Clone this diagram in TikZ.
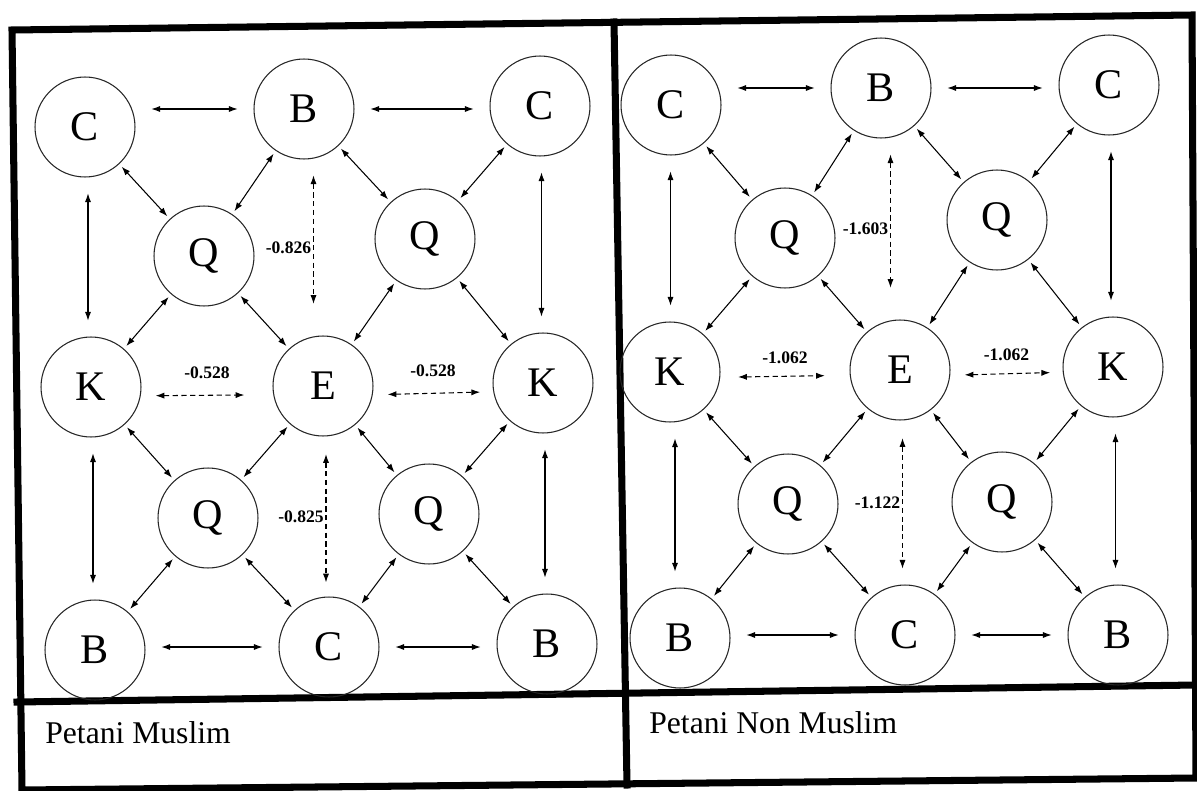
\documentclass[tikz,border=0pt]{standalone}
\usepackage{fontspec}
\setmainfont{Liberation Serif}
\usetikzlibrary{arrows.meta,calc}

\begin{document}
\begin{tikzpicture}[
    x=0.02cm, y=-0.02cm,
    >={Latex[length=5pt,width=3.5pt]},
    actor/.style={circle, draw=black!85, line width=0.6pt, minimum size=2cm,
      inner sep=0pt, font=\fontsize{24}{24}\selectfont},
    link/.style={<->, line width=0.6pt, shorten <=2pt, shorten >=2pt},
    straight/.style={<->, line width=0.6pt, shorten <=9pt, shorten >=9pt},
    dasharr/.style={<->, densely dashed, line width=0.6pt},
    coeflbl/.style={font=\fontsize{10}{10}\selectfont\bfseries, inner sep=1pt},
    frame/.style={line width=4pt, line cap=rect},
    paneltitle/.style={font=\fontsize{18}{18}\selectfont, anchor=base west, inner sep=0pt}
  ]
  \useasboundingbox (0,0) rectangle (1197,791);

  % frames (scan is a little skewed)
  \draw[frame] (12,30) -- (1192,15) -- (1196,778) -- (22,790) -- cycle;
  \draw[frame] (614,22) -- (627,785);
  \draw[frame] (17,702) -- (1196,685);

  % Petani Muslim
  \foreach \n/\x/\y/\t in {%
    tl/85/127/C, tc/304/109/B, tr/540/106/C,
    ql/204/256/Q, qr/425/239/Q,
    ml/91/387/K, mc/323/386/E, mr/543/383/K,
    pl/208/518/Q, pr/429/514/Q,
    bl/95/650/B, bc/329/647/C, br/547/644/B%
  }
    \node[actor] (m\n) at (\x,\y) {\t};

  % Petani Non Muslim
  \foreach \n/\x/\y/\t in {%
    tl/671/105/C, tc/881/88/B, tr/1109/85/C,
    ql/785/238/Q, qr/997/220/Q,
    ml/670/372/K, mc/900/370/E, mr/1113/367/K,
    pl/788/504/Q, pr/1002/502/Q,
    bl/680/638/B, bc/905/635/C, br/1118/635/B%
  }
    \node[actor] (n\n) at (\x,\y) {\t};

  \foreach \p in {m,n}{
    \foreach \a/\b in {tl/ql, tc/ql, tc/qr, tr/qr, ql/ml, ql/mc, qr/mc, qr/mr,
      ml/pl, mc/pl, mc/pr, mr/pr, pl/bl, pl/bc, pr/bc, pr/br}
      \draw[link] (\p\a) -- (\p\b);
    \foreach \a/\b/\c in {tl/tc/tc, tc/tr/tc, bl/bc/bc, bc/br/bc}
      \draw[straight] (\p\a.east |- \p\c) -- (\p\b.west |- \p\c);
    \foreach \a/\b in {tl/ml, tr/mr, ml/bl, mr/br}{
      \coordinate (h) at ($(\p\a)!.5!(\p\b)$);
      \draw[straight] (\p\a.south -| h) -- (\p\b.north -| h);
    }
  }

  % coefficients, Petani Muslim
  \coordinate (mu) at ($(mtc)!.5!(mmc)$);
  \coordinate (md) at ($(mmc)!.5!(mbc)$);
  \draw[dasharr, shorten <=9pt, shorten >=18pt] (mtc.south -| mu)
    -- node[coeflbl, left] {-0.826} (mmc.north -| mu);
  \draw[dasharr, shorten <=10pt, shorten >=8pt] (mmc.south -| md)
    -- node[coeflbl, left] {-0.825} (mbc.north -| md);
  \draw[dasharr, shorten <=8pt, shorten >=16pt] ([yshift=-5pt]mml.east)
    -- node[coeflbl, above=8pt] {-0.528} ([yshift=-5pt]mmc.west);
  \draw[dasharr, shorten <=8pt, shorten >=7pt] ([yshift=-5pt]mmc.east)
    -- node[coeflbl, above=8pt] {-0.528} ([yshift=-5pt]mmr.west);

  % coefficients, Petani Non Muslim
  \coordinate (nu) at ($(ntc)!.5!(nmc)$);
  \coordinate (nd) at ($(nmc)!.5!(nbc)$);
  \draw[dasharr, shorten <=9pt, shorten >=18pt] (ntc.south -| nu)
    -- node[coeflbl, left] {-1.603} (nmc.north -| nu);
  \draw[dasharr, shorten <=10pt, shorten >=9pt] (nmc.south -| nd)
    -- node[coeflbl, left] {-1.122} (nbc.north -| nd);
  \draw[dasharr, shorten <=10pt, shorten >=14pt] ([yshift=-3pt]nml.east)
    -- node[coeflbl, above=6pt] {-1.062} ([yshift=-3pt]nmc.west);
  \draw[dasharr, shorten <=8pt, shorten >=7pt] ([yshift=-3pt]nmc.east)
    -- node[coeflbl, above=6pt] {-1.062} ([yshift=-3pt]nmr.west);

  \node[paneltitle] (mtitle) at (45,743) {Petani Muslim};
  \node[paneltitle] (ntitle) at (649,733) {Petani Non Muslim};
\end{tikzpicture}
\end{document}
